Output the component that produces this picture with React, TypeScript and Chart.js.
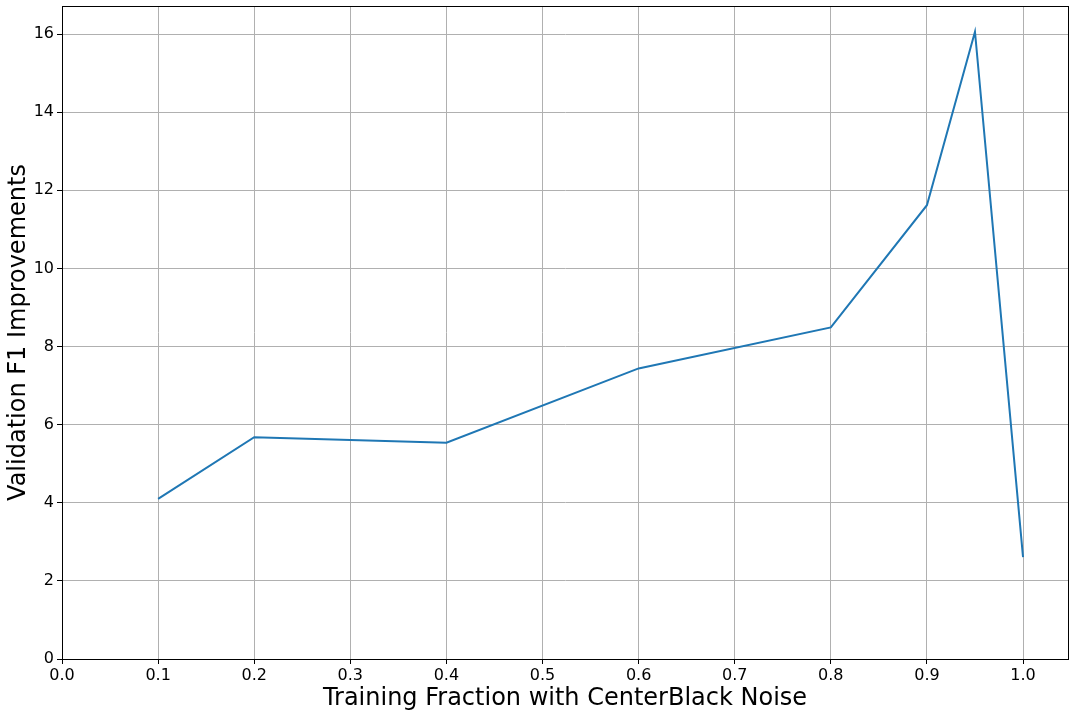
import React, { useEffect, useRef } from "react";
import { Chart, registerables } from "chart.js";

Chart.register(...registerables);

const xValues = [0.1, 0.2, 0.4, 0.6, 0.8, 0.9, 0.95, 1.0];
const f1Improvements = [4.1, 5.68, 5.54, 7.44, 8.49, 11.62, 16.06, 2.61];
const xTickValues = [0.0, 0.1, 0.2, 0.3, 0.4, 0.5, 0.6, 0.7, 0.8, 0.9, 1.0];
const yTickValues = [0, 2, 4, 6, 8, 10, 12, 14, 16];
const xAxisTitle = "Training Fraction with CenterBlack Noise";
const yAxisTitle = "Validation F1 Improvements";

const FONT = "'DejaVu Sans', sans-serif";

const framePlugin = {
  id: "frame",
  afterDraw(chart: any) {
    const { ctx, chartArea } = chart;
    ctx.save();
    ctx.strokeStyle = "#000";
    ctx.lineWidth = 1;
    ctx.strokeRect(
      Math.round(chartArea.left) + 0.5,
      Math.round(chartArea.top) + 0.5,
      Math.round(chartArea.right - chartArea.left),
      Math.round(chartArea.bottom - chartArea.top)
    );
    ctx.restore();
  },
};

export default function App() {
  const ref = useRef<HTMLCanvasElement>(null);
  useEffect(() => {
    if (!ref.current) return;
    const chart = new Chart(ref.current, {
      type: "line",
      data: {
        datasets: [
          {
            data: xValues.map((x, i) => ({ x, y: f1Improvements[i] })),
            borderColor: "#1f77b4",
            borderWidth: 2,
            pointRadius: 0,
            tension: 0,
            fill: false,
          },
        ],
      },
      options: {
        animation: false,
        responsive: false,
        layout: { padding: { top: 6, right: 6, left: 0, bottom: 0 } },
        plugins: { legend: { display: false }, tooltip: { enabled: false } },
        scales: {
          x: {
            type: "linear",
            min: 0,
            max: 1.0468,
            afterBuildTicks: (axis: any) => {
              axis.ticks = xTickValues.map((v) => ({ value: v }));
            },
            afterFit: (axis: any) => {
              axis.height = 716 - 659;
              axis.paddingLeft = 0;
              axis.paddingRight = 0;
            },
            ticks: {
              font: { family: FONT, size: 16 },
              color: "#000",
              padding: 2,
              maxRotation: 0,
              autoSkip: false,
              callback: (v: any) => Number(v).toFixed(1),
            },
            grid: {
              color: "#b0b0b0",
              lineWidth: 1,
              tickColor: "#000",
              tickLength: 5,
            },
            border: { color: "#000", width: 1 },
            title: {
              display: true,
              text: xAxisTitle,
              font: { family: FONT, size: 24 },
              color: "#000",
              padding: { top: 0, bottom: 3 },
            },
          },
          y: {
            type: "linear",
            min: 0,
            max: 16.72,
            afterBuildTicks: (axis: any) => {
              axis.ticks = yTickValues.map((v) => ({ value: v }));
            },
            afterFit: (axis: any) => {
              axis.width = 62;
              axis.paddingTop = 0;
              axis.paddingBottom = 0;
            },
            ticks: {
              font: { family: FONT, size: 16 },
              color: "#000",
              padding: 3,
              autoSkip: false,
              callback: (v: any) => String(v),
            },
            grid: {
              color: "#b0b0b0",
              lineWidth: 1,
              tickColor: "#000",
              tickLength: 5,
            },
            border: { color: "#000", width: 1 },
            title: {
              display: true,
              text: yAxisTitle,
              font: { family: FONT, size: 24 },
              color: "#000",
              padding: { top: 4, bottom: 0 },
            },
          },
        },
      },
      plugins: [framePlugin],
    });
    return () => chart.destroy();
  }, []);
  return (
    <div style={{ position: "fixed", left: 0, top: 0, width: 1074, height: 716, background: "#fff" }}>
      <canvas ref={ref} width={1074} height={716} style={{ width: 1074, height: 716 }} />
    </div>
  );
}
